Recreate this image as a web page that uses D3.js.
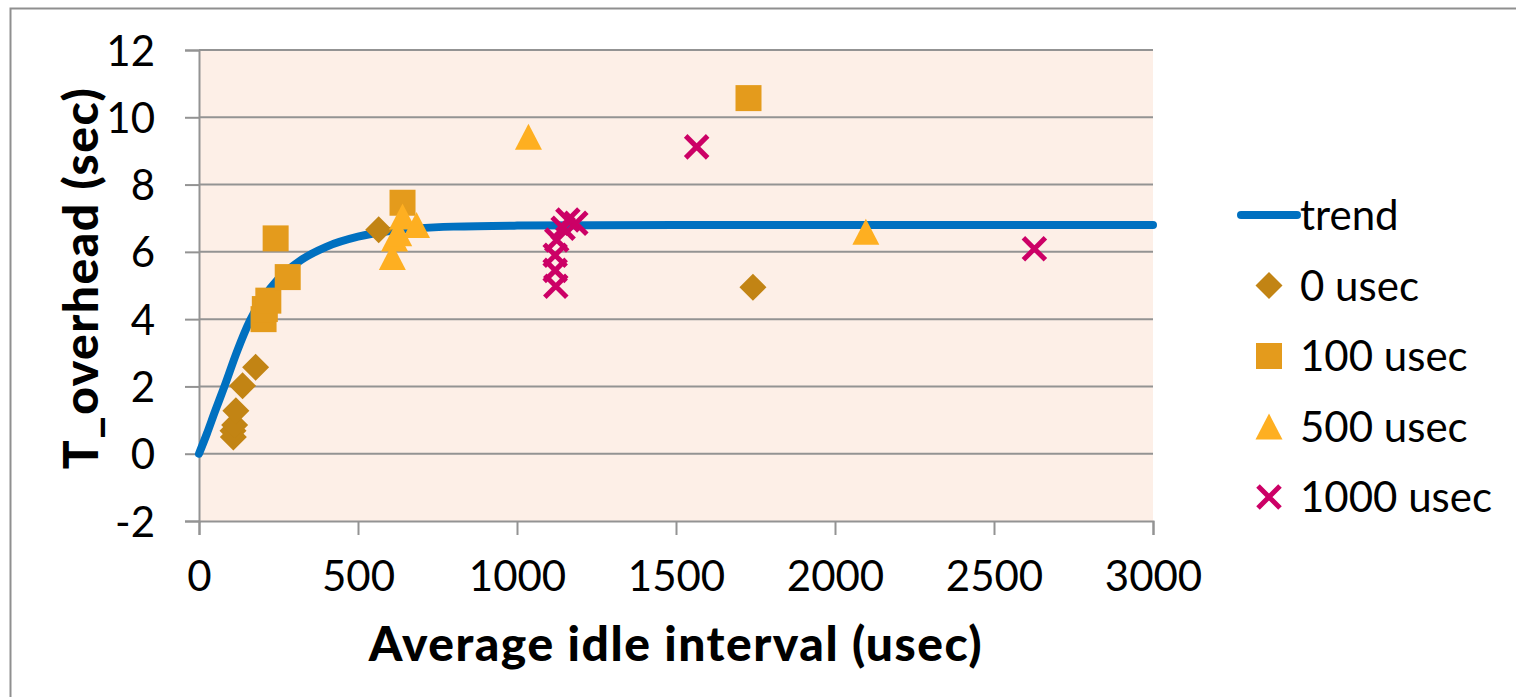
<!DOCTYPE html>
<html>
<head>
<meta charset="utf-8">
<script src="https://cdn.jsdelivr.net/npm/d3@7"></script>
<style>
  body { margin: 0; background: #fff; overflow: hidden; }
  text { font-family: Lato, "Open Sans", sans-serif; fill: #000; }
</style>
</head>
<body>
<div id="chart"></div>
<script>
// Ejes
const xTicks = [0, 500, 1000, 1500, 2000, 2500, 3000];
const yTicks = [-2, 0, 2, 4, 6, 8, 10, 12];

// Curva de tendencia
const trendX = [0, 25, 50, 80, 120, 160, 200, 250, 320, 400, 500, 600, 800, 1000, 1500, 3000];
const trendY = [0, 0.6, 1.25, 2.0, 3.05, 3.95, 4.6, 5.2, 5.75, 6.15, 6.45, 6.62, 6.75, 6.78, 6.8, 6.8];

// Series de puntos
const usec0X = [108, 107, 112, 116, 137, 178, 565, 1742];
const usec0Y = [0.5, 0.68, 0.85, 1.28, 2.02, 2.57, 6.66, 4.95];

const usec100X = [203, 207, 218, 241, 279, 640, 1728];
const usec100Y = [4.0, 4.3, 4.55, 6.4, 5.25, 7.46, 10.57];

const usec500X = [608, 615, 628, 640, 684, 1036, 2097];
const usec500Y = [5.85, 6.4, 6.55, 7.05, 6.8, 9.42, 6.6];

const usec1000X = [1122, 1120, 1120, 1125, 1145, 1160, 1185, 1565, 2627];
const usec1000Y = [4.98, 5.45, 5.9, 6.35, 6.7, 6.95, 6.85, 9.12, 6.09];

const legendLabels = ["trend", "0 usec", "100 usec", "500 usec", "1000 usec"];

// Dimensiones
const W = 1516, H = 697;
const margin = { top: 50, left: 199 };
const width = 954, height = 471;

const svg = d3.select("#chart").append("svg")
    .attr("width", W)
    .attr("height", H);

// Marco exterior
svg.append("rect")
    .attr("x", 10.5).attr("y", 8.5)
    .attr("width", 1700).attr("height", 900)
    .attr("fill", "#fff")
    .attr("stroke", "#8f8f8f")
    .attr("stroke-width", 2);

const x = d3.scaleLinear().domain([0, 3000]).range([margin.left, margin.left + width]);
const y = d3.scaleLinear().domain([-2, 12]).range([margin.top + height, margin.top]);

// Fondo del área de trazado
svg.append("rect")
    .attr("x", x(0)).attr("y", y(12))
    .attr("width", x(3000) - x(0)).attr("height", y(-2) - y(12))
    .attr("fill", "#fdefe7");

// Líneas de cuadrícula
svg.append("g").selectAll("line")
    .data(yTicks.filter(d => d > -2))
    .enter().append("line")
    .attr("x1", x(0)).attr("x2", x(3000))
    .attr("y1", d => y(d)).attr("y2", d => y(d))
    .attr("stroke", "#939393")
    .attr("stroke-width", 2);

// Eje Y
const yAxis = svg.append("g")
    .attr("transform", `translate(${x(0)},0)`)
    .call(d3.axisLeft(y).tickValues(yTicks).tickSize(14).tickPadding(30).tickFormat(d => String(d)));
yAxis.select(".domain").attr("stroke", "#939393").attr("stroke-width", 2);
yAxis.selectAll(".tick line").attr("stroke", "#939393").attr("stroke-width", 2);
yAxis.selectAll("text")
    .attr("font-size", 42)
    .attr("font-family", "Lato, sans-serif")
    .attr("fill", "#000")
    .attr("dy", "0.36em");

// Eje X
const xAxis = svg.append("g")
    .attr("transform", `translate(0,${y(-2)})`)
    .call(d3.axisBottom(x).tickValues(xTicks).tickSize(14).tickPadding(26).tickFormat(d => String(d)));
xAxis.select(".domain").attr("stroke", "#939393").attr("stroke-width", 2);
xAxis.selectAll(".tick line").attr("stroke", "#939393").attr("stroke-width", 2);
xAxis.selectAll("text")
    .attr("font-size", 42)
    .attr("font-family", "Lato, sans-serif")
    .attr("fill", "#000");

// Títulos de los ejes
svg.append("text")
    .attr("x", x(1500)).attr("y", 661)
    .attr("text-anchor", "middle")
    .attr("font-size", 48)
    .attr("font-weight", "900")
    .attr("letter-spacing", 1.5)
    .text("Average idle interval (usec)");

svg.append("text")
    .attr("transform", `translate(98,278) rotate(-90)`)
    .attr("text-anchor", "middle")
    .attr("font-size", 48)
    .attr("font-weight", "900")
    .attr("letter-spacing", 1.5)
    .text("T_overhead (sec)");

// Curva de tendencia
const trendData = trendX.map((v, i) => ({ x: v, y: trendY[i] }));
svg.append("path")
    .datum(trendData)
    .attr("fill", "none")
    .attr("stroke", "#0070c0")
    .attr("stroke-width", 8)
    .attr("stroke-linecap", "round")
    .attr("d", d3.line().x(d => x(d.x)).y(d => y(d.y)).curve(d3.curveMonotoneX));

// Formas de los marcadores
const shapes = {
    diamond: "M0,-13.5L13.5,0L0,13.5L-13.5,0Z",
    square: "M-13,-13H13V13H-13Z",
    triangle: "M0,-13L13.5,13L-13.5,13Z",
    cross: "M-11,-11L11,11M-11,11L11,-11"
};

const series = [
    { xs: usec0X, ys: usec0Y, shape: "diamond", color: "#c28414" },
    { xs: usec100X, ys: usec100Y, shape: "square", color: "#e49b1c" },
    { xs: usec500X, ys: usec500Y, shape: "triangle", color: "#feaf21" },
    { xs: usec1000X, ys: usec1000Y, shape: "cross", color: "#cc0066" }
];

function drawMarker(g, s) {
    const p = g.append("path").attr("d", shapes[s.shape]);
    if (s.shape === "cross") {
        p.attr("fill", "none").attr("stroke", s.color).attr("stroke-width", 5);
    } else {
        p.attr("fill", s.color);
    }
}

series.forEach(s => {
    const pts = s.xs.map((v, i) => ({ x: v, y: s.ys[i] }));
    svg.append("g").selectAll("g")
        .data(pts)
        .enter().append("g")
        .attr("transform", d => `translate(${x(d.x)},${y(d.y)})`)
        .each(function () { drawMarker(d3.select(this), s); });
});

// Leyenda
const legendY = d3.scaleLinear().domain([0, 4]).range([215, 497]);
const legend = svg.append("g");
legendLabels.forEach((label, i) => {
    const ly = legendY(i);
    if (i === 0) {
        legend.append("line")
            .attr("x1", 1241).attr("x2", 1297)
            .attr("y1", ly).attr("y2", ly)
            .attr("stroke", "#0070c0")
            .attr("stroke-width", 8)
            .attr("stroke-linecap", "round");
    } else {
        const g = legend.append("g").attr("transform", `translate(1269,${ly})`);
        drawMarker(g, series[i - 1]);
    }
    legend.append("text")
        .attr("x", 1300).attr("y", ly)
        .attr("dy", "0.36em")
        .attr("font-size", 42)
        .text(label);
});
</script>
</body>
</html>
